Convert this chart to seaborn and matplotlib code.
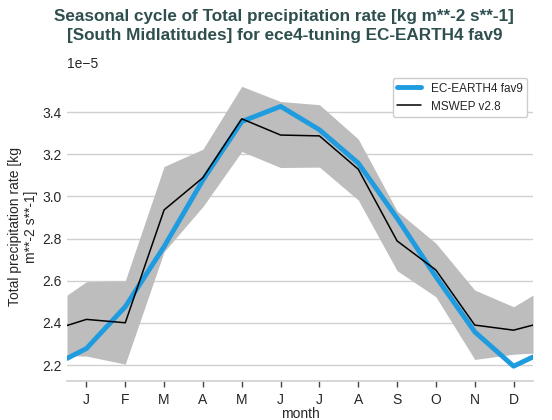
import numpy as np
import pandas as pd
import matplotlib
matplotlib.use("Agg")
import matplotlib.pyplot as plt
import seaborn as sns

# month positions, with half-month wrap points at both ends
months = [0.5, 1, 2, 3, 4, 5, 6, 7, 8, 9, 10, 11, 12, 12.5]
month_labels = ["J", "F", "M", "A", "M", "J", "J", "A", "S", "O", "N", "D"]

# values in units of 1e-5 kg m**-2 s**-1
model = [2.232, 2.279, 2.477, 2.762, 3.078, 3.355, 3.427, 3.316, 3.158, 2.897, 2.619, 2.358, 2.195, 2.239]
obs = [2.388, 2.417, 2.401, 2.936, 3.089, 3.368, 3.291, 3.287, 3.129, 2.789, 2.651, 2.390, 2.366, 2.390]
obs_upper = [2.532, 2.596, 2.600, 3.142, 3.224, 3.522, 3.450, 3.435, 3.272, 2.931, 2.778, 2.556, 2.477, 2.532]
obs_lower = [2.245, 2.243, 2.205, 2.738, 2.952, 3.213, 3.137, 3.139, 2.983, 2.648, 2.524, 2.227, 2.252, 2.257]

scale = 1e-5
df = pd.DataFrame({
    "month": months,
    "model": np.array(model) * scale,
    "obs": np.array(obs) * scale,
    "upper": np.array(obs_upper) * scale,
    "lower": np.array(obs_lower) * scale,
})

sns.set_style("whitegrid")
plt.rcParams["font.family"] = ["Liberation Sans", "DejaVu Sans"]

fig = plt.figure(figsize=(5.52, 4.2), dpi=100)
ax = fig.add_axes([0.1214, 0.0929, 0.8442, 0.7357])

ax.fill_between(df["month"], df["lower"], df["upper"], color="#bdbdbd", linewidth=0)
sns.lineplot(data=df, x="month", y="model", ax=ax, color="#1f9be0", linewidth=3.5, label="EC-EARTH4 fav9")
sns.lineplot(data=df, x="month", y="obs", ax=ax, color="black", linewidth=1.1, label="MSWEP v2.8")

ax.set_xlim(0.5, 12.5)
ax.set_ylim(2.125e-5, 3.59e-5)
ax.set_xticks(range(1, 13))
ax.set_xticklabels(month_labels)
ax.set_yticks(np.arange(2.2, 3.41, 0.2) * scale)

ax.grid(axis="x", visible=False)
ax.grid(axis="y", color="#d0d0d0", linewidth=1)
for side in ["left", "right", "top"]:
    ax.spines[side].set_visible(False)
ax.spines["bottom"].set_color("#d0d0d0")
ax.spines["bottom"].set_linewidth(1.2)
ax.tick_params(axis="x", bottom=True, length=4, width=1, color="#444444", labelsize=10, pad=5)
ax.tick_params(axis="y", left=False, length=0, labelsize=10, pad=4)
ax.yaxis.get_offset_text().set_fontsize(10)

ax.set_xlabel("month", fontsize=10, labelpad=0)
ax.set_ylabel("Total precipitation rate [kg\nm**-2 s**-1]", fontsize=10, labelpad=3)

leg = ax.legend(loc="upper right", fontsize=8.5, frameon=True, facecolor="white", edgecolor="#cccccc", framealpha=1)

fig.suptitle("Seasonal cycle of Total precipitation rate [kg m**-2 s**-1]\n[South Midlatitudes] for ece4-tuning EC-EARTH4 fav9",
             x=0.515, y=0.978, fontsize=12.3, fontweight="bold", color="#2f4f4f", linespacing=1.35)

fig.savefig("out.png", dpi=100)
